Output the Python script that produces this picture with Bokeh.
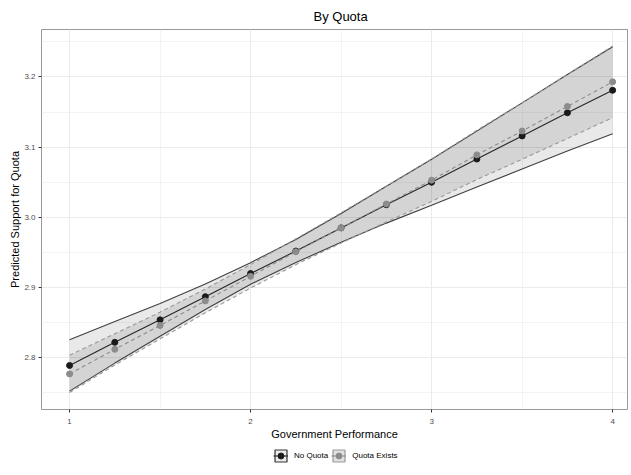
from bokeh.plotting import figure
from bokeh.layouts import column
from bokeh.models import (ColumnDataSource, FixedTicker, Range1d, Legend, LegendItem,
                          PrintfTickFormatter)
from bokeh.embed import file_html
from bokeh.resources import INLINE

# ---- data ----
performance = [1.0, 1.25, 1.5, 1.75, 2.0, 2.25, 2.5, 2.75, 3.0, 3.25, 3.5, 3.75, 4.0]

no_quota_fit = [2.789, 2.822, 2.854, 2.887, 2.920, 2.952, 2.985, 3.018, 3.050, 3.083, 3.116, 3.149, 3.181]
no_quota_lower = [2.7525, 2.7924, 2.8307, 2.8688, 2.9046, 2.9356, 2.9646, 2.9918, 3.0172, 3.0432, 3.0689, 3.0945, 3.119]
no_quota_upper = [2.8255, 2.8516, 2.8773, 2.9052, 2.9354, 2.9684, 3.0054, 3.0442, 3.0828, 3.1228, 3.1631, 3.2035, 3.243]

quota_fit = [2.777, 2.812, 2.846, 2.881, 2.916, 2.951, 2.985, 3.019, 3.053, 3.089, 3.123, 3.158, 3.193]
quota_lower = [2.7505, 2.7897, 2.827, 2.8641, 2.8993, 2.9326, 2.9634, 2.9934, 3.0228, 3.0539, 3.0827, 3.1124, 3.142]
quota_upper = [2.8035, 2.8343, 2.865, 2.8979, 2.9327, 2.9694, 3.0066, 3.0446, 3.0832, 3.1241, 3.1633, 3.2036, 3.244]

series_names = ["No Quota", "Quota Exists"]
x_ticks = [1, 2, 3, 4]
x_minor = [1.5, 2.5, 3.5]
y_ticks = [2.8, 2.9, 3.0, 3.1, 3.2]
y_minor = [2.75, 2.85, 2.95, 3.05, 3.15, 3.25]

FONT = "Liberation Sans"

src_nq = ColumnDataSource(dict(x=performance, y=no_quota_fit, lo=no_quota_lower, hi=no_quota_upper))
src_q = ColumnDataSource(dict(x=performance, y=quota_fit, lo=quota_lower, hi=quota_upper))

p = figure(frame_width=586, frame_height=380, output_backend="svg", toolbar_location=None,
           x_range=Range1d(0.845, 4.082), y_range=Range1d(2.7263, 3.2676),
           title="By Quota")

p.background_fill_color = "white"
p.border_fill_color = "white"
p.outline_line_color = "#999999"
p.outline_line_width = 1

p.min_border_left = 41
p.min_border_right = 1
p.min_border_top = 27
p.min_border_bottom = 31

p.title.text_font = FONT
p.title.text_font_size = "13px"
p.title.text_font_style = "normal"
p.title.text_color = "black"
p.title.align = "left"
p.title.offset = 272
p.title.text_line_height = 1.0
p.title.standoff = 12

for ax, tk, mn in ((p.xaxis, x_ticks, x_minor), (p.yaxis, y_ticks, y_minor)):
    ax.ticker = FixedTicker(ticks=tk, minor_ticks=mn)
    ax.axis_line_color = None
    ax.major_tick_line_color = "#333333"
    ax.major_tick_in = 0
    ax.major_tick_out = 3
    ax.minor_tick_line_color = None
    ax.major_label_text_font = FONT
    ax.major_label_text_font_size = "8px"
    ax.major_label_text_color = "#4d4d4d"
    ax.axis_label_text_font = FONT
    ax.axis_label_text_font_size = "11px"
    ax.axis_label_text_font_style = "normal"
    ax.axis_label_text_color = "black"

p.yaxis.formatter = PrintfTickFormatter(format="%.1f")
p.xaxis.axis_label = "Government Performance"
p.yaxis.axis_label = "Predicted Support for Quota"
p.xaxis.major_label_standoff = 5
p.yaxis.major_label_standoff = 2
p.xaxis.axis_label_standoff = 1
p.yaxis.axis_label_standoff = 0

for g in (p.xgrid, p.ygrid):
    g.grid_line_color = "#ebebeb"
    g.grid_line_width = 1
    g.minor_grid_line_color = "#ebebeb"
    g.minor_grid_line_width = 0.6

# ribbons
p.varea(x="x", y1="lo", y2="hi", source=src_nq, fill_color="black", fill_alpha=0.085)
p.varea(x="x", y1="lo", y2="hi", source=src_q, fill_color="black", fill_alpha=0.085)

# ribbon borders
p.line(x="x", y="lo", source=src_nq, line_color="#404040", line_width=1.1)
p.line(x="x", y="hi", source=src_nq, line_color="#404040", line_width=1.1)
p.line(x="x", y="lo", source=src_q, line_color="#999999", line_width=1.1, line_dash="4 3")
p.line(x="x", y="hi", source=src_q, line_color="#999999", line_width=1.1, line_dash="4 3")

# fitted lines and points
p.line(x="x", y="y", source=src_nq, line_color="#262626", line_width=1.1)
p.scatter(x="x", y="y", source=src_nq, size=6, fill_color="#1a1a1a", line_color="#1a1a1a")
p.line(x="x", y="y", source=src_q, line_color="#8c8c8c", line_width=1.1, line_dash="4 3")
p.scatter(x="x", y="y", source=src_q, size=6, fill_color="#8c8c8c", line_color="#8c8c8c")

# ---- legend strip (separate small figure below the plot) ----
leg = figure(width=628, height=21, output_backend="svg", toolbar_location=None,
             x_range=Range1d(0, 1), y_range=Range1d(0, 1), min_border=0)
leg.axis.visible = False
leg.grid.visible = False
leg.outline_line_color = None
leg.background_fill_color = "white"
leg.border_fill_color = "white"

# legend-only renderers, kept outside the visible range of the strip
off_box = ColumnDataSource(dict(left=[-3], right=[-2], top=[-2], bottom=[-3]))
off_pt = ColumnDataSource(dict(x=[-3, -2], y=[-3, -3]))
k_nq = leg.quad(left="left", right="right", top="top", bottom="bottom", source=off_box,
                fill_color="#ebebeb", line_color="#333333", line_width=1.2)
k_q = leg.quad(left="left", right="right", top="top", bottom="bottom", source=off_box,
               fill_color="#e0e0e0", line_color="#999999", line_width=1.2)
kl_nq = leg.line(x="x", y="y", source=off_pt, line_color="#262626", line_width=1.1)
kl_q = leg.line(x="x", y="y", source=off_pt, line_color="#8c8c8c", line_width=1.1)
kp_nq = leg.scatter(x="x", y="y", source=off_pt, size=6, fill_color="#1a1a1a", line_color="#1a1a1a")
kp_q = leg.scatter(x="x", y="y", source=off_pt, size=6, fill_color="#8c8c8c", line_color="#8c8c8c")

legend = Legend(items=[
    LegendItem(label=series_names[0], renderers=[k_nq, kl_nq, kp_nq], index=0),
    LegendItem(label=series_names[1], renderers=[k_q, kl_q, kp_q], index=0),
], orientation="horizontal", location=(232, 0))
legend.label_text_font = FONT
legend.label_text_font_size = "8px"
legend.label_text_color = "black"
legend.glyph_width = 15
legend.glyph_height = 15
legend.label_standoff = 6
legend.spacing = 3
legend.padding = 2
legend.margin = 0
legend.border_line_color = None
legend.background_fill_alpha = 0
leg.add_layout(legend)

layout = column(p, leg, spacing=0)
open("out.html", "w").write(file_html(layout, INLINE))
